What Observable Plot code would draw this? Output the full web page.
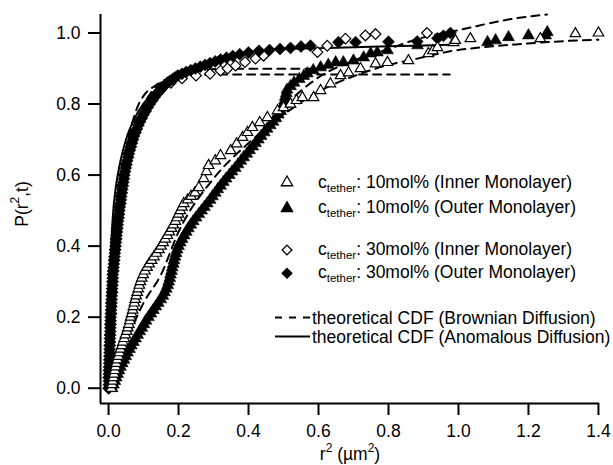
<!DOCTYPE html>
<html><head><meta charset="utf-8">
<script src="https://cdn.jsdelivr.net/npm/d3@7"></script>
<script src="https://cdn.jsdelivr.net/npm/@observablehq/plot@0.6"></script>
<style>
body{margin:0;background:#fff}
svg g[aria-label="x-axis tick label"] text{font-size:17.5px}
</style>
</head><body><div id="chart"></div>
<script>
// ---- data: [r^2 (µm^2), P(r^2,t)] ----
const xTicks = [0.0, 0.2, 0.4, 0.6, 0.8, 1.0, 1.2, 1.4];
const yTicks = [0.0, 0.2, 0.4, 0.6, 0.8, 1.0];

// c_tether 30mol%, outer monolayer (filled diamonds)
const dia30Outer = [[0.000,0.00],[0.001,0.01],[0.001,0.02],[0.000,0.03],[0.001,0.04],[0.001,0.05],[0.002,0.06],[0.002,0.07],[0.002,0.08],[0.003,0.09],[0.003,0.10],[0.003,0.11],[0.003,0.12],[0.004,0.13],[0.004,0.14],[0.004,0.15],[0.005,0.16],[0.005,0.17],[0.005,0.18],[0.006,0.19],[0.006,0.20],[0.007,0.21],[0.007,0.22],[0.008,0.23],[0.008,0.24],[0.009,0.25],[0.009,0.26],[0.010,0.27],[0.010,0.28],[0.011,0.29],[0.011,0.30],[0.012,0.31],[0.012,0.32],[0.013,0.33],[0.014,0.34],[0.015,0.35],[0.016,0.36],[0.017,0.37],[0.018,0.38],[0.019,0.39],[0.020,0.40],[0.021,0.41],[0.022,0.42],[0.023,0.43],[0.024,0.44],[0.025,0.45],[0.026,0.46],[0.027,0.47],[0.029,0.48],[0.030,0.49],[0.031,0.50],[0.032,0.51],[0.034,0.52],[0.035,0.53],[0.036,0.54],[0.038,0.55],[0.039,0.56],[0.041,0.57],[0.042,0.58],[0.044,0.59],[0.045,0.60],[0.047,0.61],[0.049,0.62],[0.051,0.63],[0.053,0.64],[0.056,0.65],[0.058,0.66],[0.061,0.67],[0.064,0.68],[0.067,0.69],[0.070,0.70],[0.073,0.71],[0.077,0.72],[0.081,0.73],[0.085,0.74],[0.090,0.75],[0.095,0.76],[0.100,0.77],[0.106,0.78],[0.112,0.79],[0.118,0.80],[0.125,0.81],[0.132,0.82],[0.140,0.83],[0.148,0.84],[0.158,0.85],[0.168,0.86],[0.175,0.865],[0.183,0.87],[0.190,0.875],[0.198,0.88],[0.210,0.885],[0.222,0.89],[0.235,0.895],[0.248,0.90],[0.262,0.905],[0.276,0.91],[0.290,0.915],[0.305,0.92],[0.320,0.925],[0.337,0.93],[0.355,0.935],[0.375,0.94],[0.400,0.945],[0.430,0.95],[0.460,0.952],[0.490,0.955],[0.520,0.958],[0.550,0.962],[0.577,0.964],[0.657,0.974],[0.706,0.974],[0.800,0.975],[0.882,0.976],[0.940,0.985],[0.957,0.992],[0.977,1.000]];

// c_tether 30mol%, inner monolayer (open diamonds)
const dia30Inner = [[0.001,0.00],[0.002,0.03],[0.002,0.06],[0.003,0.09],[0.004,0.12],[0.005,0.15],[0.006,0.18],[0.007,0.21],[0.008,0.24],[0.010,0.27],[0.012,0.30],[0.014,0.33],[0.016,0.36],[0.018,0.39],[0.021,0.42],[0.024,0.45],[0.027,0.48],[0.030,0.51],[0.034,0.54],[0.038,0.57],[0.043,0.60],[0.049,0.63],[0.056,0.66],[0.064,0.69],[0.074,0.72],[0.086,0.75],[0.101,0.78],[0.114,0.80],[0.130,0.82],[0.150,0.84],[0.178,0.86],[0.210,0.872],[0.250,0.880],[0.290,0.885],[0.320,0.894],[0.340,0.900],[0.363,0.908],[0.390,0.918],[0.420,0.928],[0.443,0.936],[0.597,0.946],[0.625,0.964],[0.677,0.984],[0.734,0.993],[0.763,0.997],[0.910,1.000]];

// c_tether 10mol%, outer monolayer (filled triangles)
const tri10Outer = [[0.010,0.00],[0.014,0.01],[0.018,0.02],[0.022,0.03],[0.026,0.04],[0.030,0.05],[0.034,0.06],[0.039,0.07],[0.044,0.08],[0.049,0.09],[0.054,0.10],[0.060,0.11],[0.065,0.12],[0.071,0.13],[0.077,0.14],[0.083,0.15],[0.089,0.16],[0.095,0.17],[0.101,0.18],[0.107,0.19],[0.114,0.20],[0.121,0.21],[0.128,0.22],[0.135,0.23],[0.142,0.24],[0.149,0.25],[0.155,0.26],[0.160,0.27],[0.165,0.28],[0.169,0.29],[0.172,0.30],[0.175,0.31],[0.177,0.32],[0.180,0.33],[0.182,0.34],[0.185,0.35],[0.187,0.36],[0.190,0.37],[0.193,0.38],[0.196,0.39],[0.200,0.40],[0.205,0.41],[0.210,0.42],[0.216,0.43],[0.222,0.44],[0.228,0.45],[0.235,0.46],[0.242,0.47],[0.250,0.48],[0.258,0.49],[0.266,0.50],[0.274,0.51],[0.282,0.52],[0.290,0.53],[0.297,0.54],[0.305,0.55],[0.312,0.56],[0.320,0.57],[0.328,0.58],[0.336,0.59],[0.345,0.60],[0.353,0.61],[0.362,0.62],[0.370,0.63],[0.378,0.64],[0.386,0.65],[0.395,0.66],[0.403,0.67],[0.412,0.68],[0.420,0.69],[0.428,0.70],[0.436,0.71],[0.445,0.72],[0.453,0.73],[0.462,0.74],[0.470,0.75],[0.478,0.76],[0.485,0.77],[0.492,0.78],[0.496,0.79],[0.500,0.80],[0.503,0.81],[0.505,0.82],[0.508,0.83],[0.510,0.84],[0.520,0.85],[0.530,0.86],[0.545,0.87],[0.558,0.879],[0.568,0.886],[0.585,0.895],[0.606,0.903],[0.628,0.910],[0.649,0.917],[0.671,0.917],[0.700,0.922],[0.729,0.931],[0.749,0.942],[0.768,0.945],[0.797,0.951],[0.883,0.965],[1.083,0.974],[1.106,0.979],[1.143,0.988],[1.200,0.993],[1.249,0.993],[1.254,1.002]];

// c_tether 10mol%, inner monolayer (open triangles)
const tri10Inner = [[0.008,0.00],[0.010,0.01],[0.012,0.02],[0.014,0.03],[0.016,0.04],[0.018,0.05],[0.020,0.06],[0.022,0.07],[0.025,0.08],[0.028,0.09],[0.031,0.10],[0.034,0.11],[0.038,0.12],[0.041,0.13],[0.045,0.14],[0.048,0.15],[0.052,0.16],[0.055,0.17],[0.058,0.18],[0.061,0.19],[0.063,0.20],[0.066,0.21],[0.069,0.22],[0.071,0.23],[0.074,0.24],[0.076,0.25],[0.079,0.26],[0.082,0.27],[0.085,0.28],[0.088,0.29],[0.091,0.30],[0.095,0.31],[0.099,0.32],[0.104,0.33],[0.110,0.34],[0.116,0.35],[0.123,0.36],[0.130,0.37],[0.137,0.38],[0.144,0.39],[0.150,0.40],[0.156,0.41],[0.162,0.42],[0.168,0.43],[0.174,0.44],[0.180,0.45],[0.185,0.46],[0.191,0.47],[0.196,0.48],[0.200,0.49],[0.205,0.50],[0.210,0.51],[0.215,0.52],[0.226,0.53],[0.236,0.54],[0.247,0.55],[0.258,0.565],[0.272,0.59],[0.280,0.61],[0.286,0.627],[0.305,0.64],[0.320,0.655],[0.349,0.669],[0.366,0.688],[0.383,0.706],[0.397,0.720],[0.411,0.734],[0.432,0.748],[0.454,0.762],[0.483,0.781],[0.500,0.790],[0.520,0.800],[0.537,0.810],[0.554,0.818],[0.586,0.818],[0.606,0.838],[0.634,0.857],[0.663,0.880],[0.686,0.888],[0.720,0.900],[0.763,0.913],[0.797,0.917],[0.857,0.922],[0.914,0.942],[0.927,0.950],[0.940,0.959],[0.986,0.973],[0.991,0.979],[1.034,0.984],[1.234,0.984],[1.334,0.998],[1.400,1.000]];

// theoretical CDFs (Brownian = dashed, anomalous = solid)
const brown30Outer = [[0,0],[0.005,0.12],[0.01,0.23],[0.02,0.40],[0.03,0.52],[0.04,0.61],[0.05,0.67],[0.06,0.72],[0.07,0.755],[0.082,0.79],[0.10,0.823],[0.134,0.852],[0.172,0.872],[0.22,0.880],[0.30,0.883],[0.975,0.883]];
const brown30Inner = [[0,0],[0.01,0.20],[0.02,0.36],[0.03,0.48],[0.05,0.62],[0.08,0.75],[0.12,0.83],[0.18,0.875],[0.25,0.893],[0.32,0.899],[0.62,0.899]];
const brown10Inner = [[0,0],[0.05,0.13],[0.10,0.24],[0.15,0.32],[0.20,0.44],[0.30,0.59],[0.40,0.69],[0.50,0.77],[0.60,0.835],[0.70,0.878],[0.80,0.91],[0.87,0.925],[0.986,0.95],[1.07,0.96],[1.18,0.969],[1.30,0.977],[1.40,0.981]];
const brown10Outer = [[0,0],[0.05,0.10],[0.10,0.19],[0.15,0.26],[0.20,0.39],[0.30,0.545],[0.40,0.665],[0.50,0.79],[0.60,0.875],[0.70,0.922],[0.80,0.955],[0.89,0.985],[1.006,1.009],[1.082,1.026],[1.168,1.042],[1.253,1.052]];
const anom30 = [[0,0],[0.003,0.20],[0.006,0.35],[0.012,0.48],[0.02,0.56],[0.03,0.62],[0.05,0.70],[0.08,0.77],[0.12,0.825],[0.17,0.868],[0.22,0.895],[0.29,0.92],[0.37,0.94],[0.46,0.952],[0.60,0.957],[0.75,0.961],[0.87,0.964],[0.975,0.967]];

const legendRows = [
  {symbol: "triangle", filled: false, conc: "10mol%", layer: "(Inner Monolayer)"},
  {symbol: "triangle", filled: true,  conc: "10mol%", layer: "(Outer Monolayer)"},
  {symbol: "diamond2", filled: false, conc: "30mol%", layer: "(Inner Monolayer)"},
  {symbol: "diamond2", filled: true,  conc: "30mol%", layer: "(Outer Monolayer)"}
];
const lineLegend = ["theoretical CDF (Brownian Diffusion)", "theoretical CDF (Anomalous Diffusion)"];

// ---- chart ----
const FONT = "'Liberation Sans', Arial, Helvetica, sans-serif";
const FS = 17.5;
const X0 = -0.023, X1 = 1.403, Y0 = -0.043, Y1 = 1.052;
const fmt = d3.format(".1f");
const tickLenX = 12 / 349.9; // 12px expressed in x units (349.9 px per unit)
const dash = {x: d => d[0], y: d => d[1], stroke: "black", strokeWidth: 2, strokeDasharray: "8,6", curve: "monotone-x"};

const chart = Plot.plot({
  width: 613, height: 465,
  marginLeft: 100, marginRight: 14, marginTop: 14, marginBottom: 62,
  style: {fontFamily: FONT, fontSize: FS + "px", background: "white", color: "black", overflow: "visible"},
  x: {domain: [X0, X1], label: null},
  y: {domain: [Y0, Y1], label: null, axis: null},
  marks: [
    Plot.axisX({ticks: xTicks, tickFormat: fmt, tickSize: 12, tickPadding: 9, strokeWidth: 2, fontSize: FS, label: null}),
    Plot.ruleY(yTicks, {y: d => d, x1: X0 - tickLenX, x2: X0, strokeWidth: 2}),
    Plot.text(yTicks, {y: d => d, x: X0, text: d => fmt(d), textAnchor: "end", dx: -20, fontSize: FS, fill: "black"}),
    Plot.ruleX([X0], {strokeWidth: 2}),
    Plot.ruleY([Y0], {strokeWidth: 2}),
    Plot.line(brown30Outer, dash),
    Plot.line(brown30Inner, dash),
    Plot.line(brown10Inner, dash),
    Plot.line(brown10Outer, dash),
    Plot.line(anom30, {x: d => d[0], y: d => d[1], stroke: "black", strokeWidth: 2, curve: "monotone-x"}),
    Plot.dot(dia30Inner, {x: d => d[0], y: d => d[1], symbol: "diamond2", r: 4.8, fill: "white", stroke: "black", strokeWidth: 1.2}),
    Plot.dot(dia30Outer, {x: d => d[0], y: d => d[1], symbol: "diamond2", r: 5.4, fill: "black", stroke: "black", strokeWidth: 0.6}),
    Plot.dot(tri10Outer, {x: d => d[0], y: d => d[1], symbol: "triangle", r: 4.4, fill: "black", stroke: "black", strokeWidth: 0.6}),
    Plot.dot(tri10Inner, {x: d => d[0], y: d => d[1], symbol: "triangle", r: 3.9, fill: "white", stroke: "black", strokeWidth: 1.2})
  ]
});
document.getElementById("chart").append(chart);

// ---- axis titles and legend (real text) ----
const svg = d3.select(chart);
const t = svg.append("g").attr("font-family", FONT).attr("fill", "black").attr("font-size", FS).attr("text-anchor", "start");

const xl = t.append("text").attr("x", 350).attr("y", 460).attr("text-anchor", "middle");
xl.append("tspan").text("r");
xl.append("tspan").attr("font-size", 12).attr("dy", -8).text("2");
xl.append("tspan").attr("dy", 8).text(" (µm");
xl.append("tspan").attr("font-size", 12).attr("dy", -8).text("2");
xl.append("tspan").attr("dy", 8).text(")");

const yl = t.append("text").attr("transform", "translate(28,204) rotate(-90)").attr("text-anchor", "middle");
yl.append("tspan").text("P(r");
yl.append("tspan").attr("font-size", 12).attr("dy", -9).text("2");
yl.append("tspan").attr("dy", 9).text(",t)");

const symY = [182.5, 208.4, 250, 273.3];
const baseY = [188, 213, 255, 278];
legendRows.forEach((r, i) => {
  const sym = r.symbol === "triangle" ? d3.symbolTriangle : d3.symbolDiamond2;
  const size = r.symbol === "triangle" ? 55 : 60;
  t.append("path").attr("d", d3.symbol(sym, size)())
    .attr("transform", `translate(287,${symY[i]})`)
    .attr("fill", r.filled ? "black" : "white").attr("stroke", "black").attr("stroke-width", 1.3);
  const tx = t.append("text").attr("x", 318).attr("y", baseY[i]).attr("text-anchor", "start");
  tx.append("tspan").text("c");
  tx.append("tspan").attr("font-size", 11.5).attr("dy", 4).text("tether");
  tx.append("tspan").attr("dy", -4).text(`: ${r.conc} ${r.layer}`);
});
t.append("line").attr("x1", 275).attr("x2", 310).attr("y1", 317.5).attr("y2", 317.5)
  .attr("stroke", "black").attr("stroke-width", 2).attr("stroke-dasharray", "7,7");
t.append("line").attr("x1", 275).attr("x2", 310).attr("y1", 336.5).attr("y2", 336.5)
  .attr("stroke", "black").attr("stroke-width", 2);
t.append("text").attr("x", 312).attr("y", 323.5).attr("text-anchor", "start").text(lineLegend[0]);
t.append("text").attr("x", 312).attr("y", 342.5).attr("text-anchor", "start").text(lineLegend[1]);
</script>
</body></html>
